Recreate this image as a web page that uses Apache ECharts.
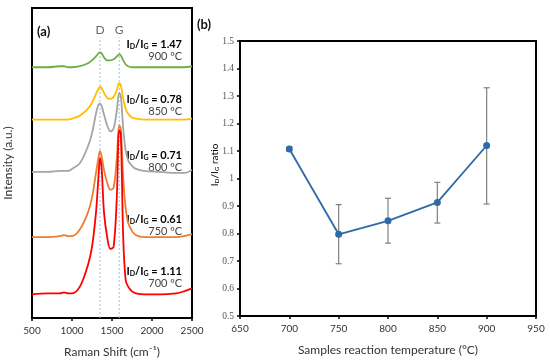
<!DOCTYPE html>
<html>
<head>
<meta charset="utf-8">
<script src="https://cdn.jsdelivr.net/npm/echarts@6/dist/echarts.min.js"></script>
<style>
html,body{margin:0;padding:0;background:#fff;}
#chart{width:550px;height:363px;}
</style>
</head>
<body>
<div id="chart"></div>
<script>
// ---------- Panel (a): Raman spectra (offset, arbitrary units) ----------
const ramanShift = [500, 700, 850, 900, 950, 1000, 1100, 1200, 1250, 1300, 1330, 1350, 1370, 1400, 1440, 1480, 1520, 1560, 1590, 1610, 1640, 1670, 1700, 1750, 1800, 1900, 2100, 2300, 2400, 2500];
const spec900 = [254,254,255,255,254,254,255,258,261,265,268,269,268,264,261,261,262,265,267,266,261,257,255,254,254,254,254,254,254,255];
const spec850 = [201,201,201,201,201,202,205,212,218,227,232,234,233,228,223,222,224,231,238,236,222,212,207,203,202,201,201,201,201,202];
const spec800 = [148,148,149,149,149,151,157,174,187,207,216,217,215,206,195,189,192,210,228,225,192,170,160,154,151,149,148,147,147,150];
const spec750 = [82,82,83,84,83,83,90,107,122,147,162,169,164,150,137,130,132,162,195,192,142,112,97,88,84,82,82,82,83,85];
const spec700 = [24,25,25,26,25,25,32,54,72,107,142,162,152,107,82,70,72,122,190,187,82,39,32,27,25,24,24,25,27,30];
const bandPositions = [1350, 1590];
const bandNames = ['D', 'G'];
const ratioLabels = ['1.47', '0.78', '0.71', '0.61', '1.11'];
const tempLabels = ['900', '850', '800', '750', '700'];

// ---------- Panel (b): ID/IG ratio ----------
const temps = [700, 750, 800, 850, 900];
const ratio = [1.107, 0.797, 0.846, 0.913, 1.12];
const errLow = [1.100, 0.690, 0.765, 0.838, 0.907];
const errHigh = [1.115, 0.905, 0.928, 0.986, 1.330];

const FONT = 'Lato';
const chart = echarts.init(document.getElementById('chart'), null, {renderer: 'canvas'});

function zip(xs, ys) { return xs.map((x, i) => [x, ys[i]]); }

const specSeries = [
  {data: spec900, color: '#70ad47'},
  {data: spec850, color: '#ffc000'},
  {data: spec800, color: '#a5a5a5'},
  {data: spec750, color: '#ed7d31'},
  {data: spec700, color: '#ff0000'}
].map((s, i) => ({
  type: 'line', xAxisIndex: 0, yAxisIndex: 0,
  data: zip(ramanShift, s.data), smooth: 0.35, showSymbol: false,
  lineStyle: {color: s.color, width: 1.8}, z: 3 + i, silent: true
}));

const bandSeries = bandPositions.map(b => ({
  type: 'line', xAxisIndex: 0, yAxisIndex: 0,
  data: [[b, 0], [b, 284]], showSymbol: false,
  lineStyle: {color: '#9dc3e6', width: 1, type: [2, 2]}, z: 2, silent: true
}));

const bandLabelSeries = {
  type: 'scatter', xAxisIndex: 0, yAxisIndex: 0, symbolSize: 0,
  data: bandPositions.map((b, i) => ({value: [b, 292], name: bandNames[i]})),
  label: {show: true, position: 'inside', formatter: p => p.name, fontFamily: FONT, fontSize: 12, color: '#444'},
  z: 10, silent: true
};

const errSeries = {
  type: 'custom', xAxisIndex: 1, yAxisIndex: 1,
  data: temps.map((t, i) => [t, errLow[i], errHigh[i]]),
  encode: {x: 0, y: [1, 2]},
  renderItem: function (params, api) {
    const x = api.value(0);
    const p1 = api.coord([x, api.value(2)]);
    const p2 = api.coord([x, api.value(1)]);
    const w = 3;
    const st = {stroke: '#808080', lineWidth: 1.2};
    return {type: 'group', children: [
      {type: 'line', shape: {x1: p1[0], y1: p1[1], x2: p2[0], y2: p2[1]}, style: st},
      {type: 'line', shape: {x1: p1[0] - w, y1: p1[1], x2: p1[0] + w, y2: p1[1]}, style: st},
      {type: 'line', shape: {x1: p2[0] - w, y1: p2[1], x2: p2[0] + w, y2: p2[1]}, style: st}
    ]};
  },
  z: 2, silent: true
};

const ratioSeries = {
  type: 'line', xAxisIndex: 1, yAxisIndex: 1,
  data: zip(temps, ratio), symbol: 'circle', symbolSize: 7,
  lineStyle: {color: '#2e6aa8', width: 1.8}, itemStyle: {color: '#2e6aa8'}, z: 5, silent: true
};

// annotation texts for panel (a)
const annY = [43, 98, 154, 218, 270];
const richStyles = {
  b: {fontFamily: FONT, fontSize: 11, fontWeight: 'bold', color: '#333', lineHeight: 14, verticalAlign: 'bottom'},
  s: {fontFamily: FONT, fontSize: 7, fontWeight: 'bold', color: '#333', lineHeight: 10, verticalAlign: 'bottom'}
};
const graphics = [];
ratioLabels.forEach((r, i) => {
  graphics.push({type: 'text', x: 182, y: annY[i], style: {
    text: '{b|I}{s|D}{b|/I}{s|G}{b| = ' + r + '}', rich: richStyles,
    align: 'right', verticalAlign: 'middle'}});
  graphics.push({type: 'text', x: 182, y: annY[i] + 13, style: {
    text: tempLabels[i] + ' ºC', fontFamily: FONT, fontSize: 11, fill: '#444',
    align: 'right', verticalAlign: 'middle'}});
});
graphics.push({type: 'text', x: 37, y: 32, style: {text: '(a)', fontFamily: FONT, fontSize: 13, fontWeight: 'bold', fill: '#111', verticalAlign: 'middle'}});
graphics.push({type: 'text', x: 197, y: 25, style: {text: '(b)', fontFamily: FONT, fontSize: 13, fontWeight: 'bold', fill: '#111', verticalAlign: 'middle'}});
graphics.push({type: 'text', x: 214, y: 165, rotation: Math.PI / 2, style: {
  text: '{b|I}{s|D}{b|/I}{s|G}{b| ratio}',
  rich: {
    b: {fontFamily: FONT, fontSize: 10, color: '#777', lineHeight: 12, verticalAlign: 'bottom'},
    s: {fontFamily: FONT, fontSize: 6.5, color: '#777', lineHeight: 9, verticalAlign: 'bottom'}
  },
  align: 'center', verticalAlign: 'middle'}});

const option = {
  animation: false,
  backgroundColor: '#fff',
  textStyle: {fontFamily: FONT},
  grid: [
    {left: 32, right: 358, top: 8, bottom: 41, show: true, borderColor: '#000', borderWidth: 2, containLabel: false},
    {left: 240, right: 14, top: 41, bottom: 47, show: true, borderColor: '#000', borderWidth: 2, containLabel: false}
  ],
  xAxis: [
    {type: 'value', gridIndex: 0, min: 500, max: 2500, interval: 500,
     name: 'Raman Shift (cm⁻¹)', nameLocation: 'middle', nameGap: 28,
     nameTextStyle: {fontFamily: FONT, fontSize: 12, color: '#333'},
     axisLine: {lineStyle: {color: '#000', width: 2}},
     axisTick: {show: true, length: 3, lineStyle: {color: '#000', width: 1.5}},
     axisLabel: {fontFamily: FONT, fontSize: 10, color: '#333', margin: 8, formatter: v => String(v)},
     splitLine: {show: false}},
    {type: 'value', gridIndex: 1, min: 650, max: 950, interval: 50,
     name: 'Samples reaction temperature (°C)', nameLocation: 'middle', nameGap: 28,
     nameTextStyle: {fontFamily: FONT, fontSize: 12, color: '#333'},
     axisLine: {lineStyle: {color: '#000', width: 2}},
     axisTick: {show: true, length: 3, lineStyle: {color: '#000', width: 1.5}},
     axisLabel: {fontFamily: FONT, fontSize: 10, color: '#333', margin: 8, formatter: v => String(v)},
     splitLine: {show: false}}
  ],
  yAxis: [
    {type: 'value', gridIndex: 0, min: 0, max: 314,
     name: 'Intensity (a.u.)', nameLocation: 'middle', nameGap: 18, nameRotate: 90,
     nameTextStyle: {fontFamily: FONT, fontSize: 12, color: '#333'},
     axisLine: {show: true, lineStyle: {color: '#000', width: 2}},
     axisTick: {show: false}, axisLabel: {show: false}, splitLine: {show: false}},
    {type: 'value', gridIndex: 1, min: 0.5, max: 1.5, interval: 0.1,
     axisLine: {show: true, lineStyle: {color: '#000', width: 2}},
     axisTick: {show: true, length: 3, lineStyle: {color: '#000', width: 1.5}},
     axisLabel: {fontFamily: 'Liberation Serif', fontSize: 9.5, color: '#555', margin: 6,
       formatter: v => String(+(+v).toFixed(1))},
     splitLine: {show: false}}
  ],
  graphic: graphics,
  series: [...bandSeries, ...specSeries, bandLabelSeries, errSeries, ratioSeries]
};
chart.setOption(option);
</script>
</body>
</html>
